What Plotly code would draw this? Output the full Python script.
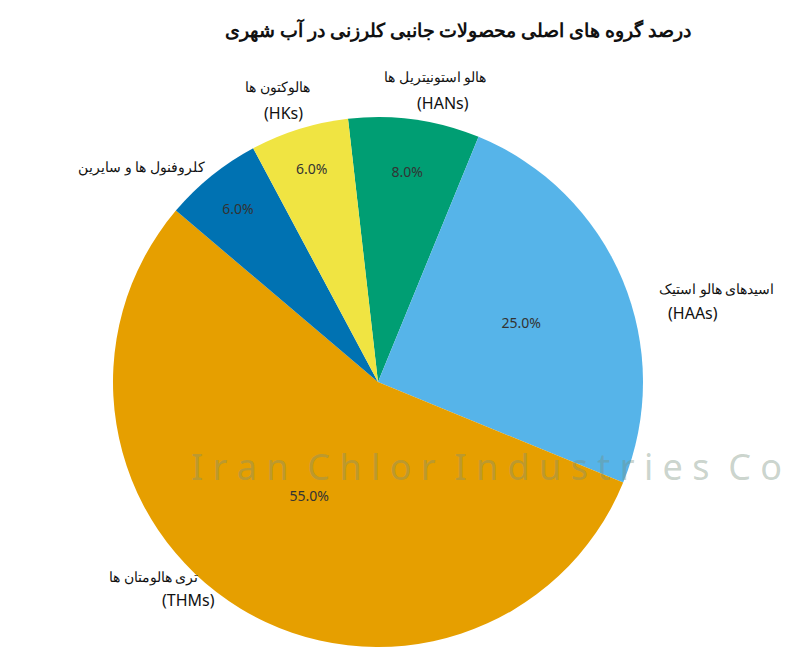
import plotly.graph_objects as go

labels = ["هالو استونیتریل ها", "اسیدهای هالو استیک", "تری هالومتان ها", "کلروفنول ها و سایرین", "هالوکتون ها"]
abbr = ["(HANs)", "(HAAs)", "(THMs)", "", "(HKs)"]
values = [8, 25, 55, 6, 6]
colors = ["#009E73", "#56B4E9", "#E69F00", "#0072B2", "#F0E442"]

W, H = 800, 666
cx, cy, r = 370, 374, 265
fig = go.Figure(go.Pie(
    labels=labels, values=values, sort=False, direction="clockwise", rotation=-6.5,
    marker=dict(colors=colors, line=dict(color="white", width=0)),
    texttemplate="%{percent:.1%}", textinfo="percent", textposition="inside",
    insidetextorientation="horizontal",
    textfont=dict(size=14, color="#333333", family="Noto Sans"),
    showlegend=False, hoverinfo="label+percent",
    domain=dict(x=[(cx-r)/W, (cx+r)/W], y=[(H-cy-r)/H, (H-cy+r)/H]),
))

# (name x, name y, abbr centre x)
pos = {0: (427, 57, 435), 1: (768, 280, 712), 2: (99, 580, 152), 3: (68, 147, None), 4: (269, 67, 275)}
anns = []
for i, (xn, y, xa) in pos.items():
    anns.append(dict(x=xn/W, y=1-y/H, xref="paper", yref="paper", text=labels[i], showarrow=False,
                     font=dict(size=14, family="Noto Sans", color="#111")))
    if abbr[i]:
        anns.append(dict(x=xa/W, y=1-(y+25)/H, xref="paper", yref="paper", text=abbr[i], showarrow=False,
                         font=dict(size=16, family="Noto Sans", color="#111")))
anns.append(dict(x=478/W, y=1-485/H, xref="paper", yref="paper", text="I r a n  C h l o r  I n d u s t r i e s  C o",
                 showarrow=False, font=dict(size=36, family="Noto Sans", color="rgba(120,145,125,0.4)")))

fig.update_layout(
    width=W, height=H, margin=dict(l=0, r=0, t=0, b=0), paper_bgcolor="white",
    title=dict(text="<b>درصد گروه های اصلی محصولات جانبی کلرزنی در آب شهری</b>", x=450/W, xanchor="center",
               y=1-22/H, yanchor="middle", font=dict(size=19, family="Noto Sans", color="#111")),
    annotations=anns,
)
fig.write_html("out.html")
